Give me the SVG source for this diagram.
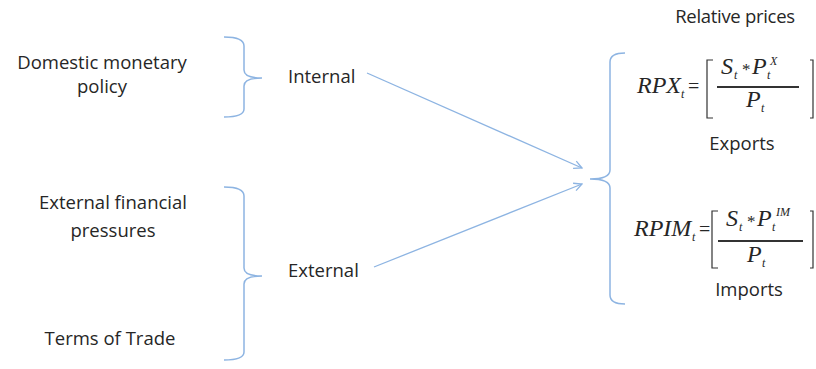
<svg xmlns="http://www.w3.org/2000/svg" width="816" height="369" viewBox="0 0 816 369">
<defs>
<marker id="arr" viewBox="0 0 10 10" refX="9" refY="5" markerWidth="10" markerHeight="10" markerUnits="userSpaceOnUse" orient="auto">
<path d="M1,1 L9,5 L1,9" fill="none" stroke="#8DB4E2" stroke-width="1.3"/>
</marker>
</defs>
<style>
.lbl{font-family:"Open Sans","Liberation Sans",sans-serif;font-size:18.5px;fill:#262626}
.br{fill:none;stroke:#8DB4E2;stroke-width:1.5}
.con{fill:none;stroke:#8DB4E2;stroke-width:1.3}
.m{font-family:"Liberation Serif","Times New Roman",serif;font-style:italic;fill:#262626}
.big{font-size:24px}
.sub{font-size:12px}
.mid{font-family:"Liberation Serif",serif;fill:#262626;font-size:20px}
.fl{stroke:#333;stroke-width:2.2}
.bk{fill:none;stroke:#333;stroke-width:1.2}
</style>
<rect width="816" height="369" fill="#fff"/>

<g id="domestic">
<text class="lbl" x="102" y="69" text-anchor="middle">Domestic monetary</text>
<text class="lbl" x="102" y="93" text-anchor="middle">policy</text>
</g>
<g id="extfin">
<text class="lbl" x="113" y="209" text-anchor="middle">External financial</text>
<text class="lbl" x="113" y="237" text-anchor="middle">pressures</text>
</g>
<g id="tot">
<text class="lbl" x="110" y="345" text-anchor="middle">Terms of Trade</text>
</g>

<g id="brace-internal">
<path class="br" d="M224,37 Q244,37 244,46 L244,70 Q244,78 262,78 Q244,78 244,86 L244,109 Q244,117 224,117"/>
</g>
<g id="brace-external">
<path class="br" d="M224,187 Q244,187 244,196 L244,268 Q244,276 262,276 Q244,276 244,284 L244,352 Q244,360 224,360"/>
</g>

<g id="internal">
<text class="lbl" x="288" y="83">Internal</text>
</g>
<g id="external">
<text class="lbl" x="288" y="277">External</text>
</g>

<g id="connectors">
<line class="con" x1="367" y1="73" x2="582" y2="168" marker-end="url(#arr)"/>
<line class="con" x1="374" y1="267" x2="582" y2="184" marker-end="url(#arr)"/>
</g>

<g id="relprices">
<text class="lbl" x="735" y="23" text-anchor="middle" letter-spacing="-0.3">Relative prices</text>
<path class="br" d="M625,53 Q610,53 610,62 L610,170 Q610,179 590,179 Q610,179 610,188 L610,295 Q610,304 625,304"/>
</g>

<g id="rpx">
<text class="m big" x="637" y="93">RPX</text>
<text class="m sub" x="681" y="98">t</text>
<text class="mid" x="688" y="93">=</text>
<path class="bk" d="M713,60 L707,60 L707,118 L713,118"/>
<text class="m big" x="721" y="74">S</text>
<text class="m sub" x="734" y="79">t</text>
<text class="mid" x="742" y="75" style="font-size:17px">*</text>
<text class="m big" x="752" y="74">P</text>
<text class="m sub" x="767" y="79">t</text>
<text class="m sub" x="770" y="65">X</text>
<line class="fl" x1="717" y1="87" x2="799" y2="87"/>
<text class="m big" x="746" y="107">P</text>
<text class="m sub" x="761" y="112">t</text>
<path class="bk" d="M810,60 L813,60 L813,118 L810,118"/>
<text class="lbl" x="742" y="150" text-anchor="middle">Exports</text>
</g>

<g id="rpim">
<text class="m big" x="634" y="236">RPIM</text>
<text class="m sub" x="692" y="241">t</text>
<text class="mid" x="699" y="236">=</text>
<path class="bk" d="M718,211 L712,211 L712,268 L718,268"/>
<text class="m big" x="726" y="226">S</text>
<text class="m sub" x="739" y="231">t</text>
<text class="mid" x="747" y="227" style="font-size:17px">*</text>
<text class="m big" x="757" y="226">P</text>
<text class="m sub" x="772" y="231">t</text>
<text class="m sub" x="776" y="216">IM</text>
<line class="fl" x1="718" y1="241" x2="803" y2="241"/>
<text class="m big" x="747" y="262">P</text>
<text class="m sub" x="762" y="267">t</text>
<path class="bk" d="M810,211 L813,211 L813,268 L810,268"/>
<text class="lbl" x="749" y="296" text-anchor="middle">Imports</text>
</g>
</svg>
